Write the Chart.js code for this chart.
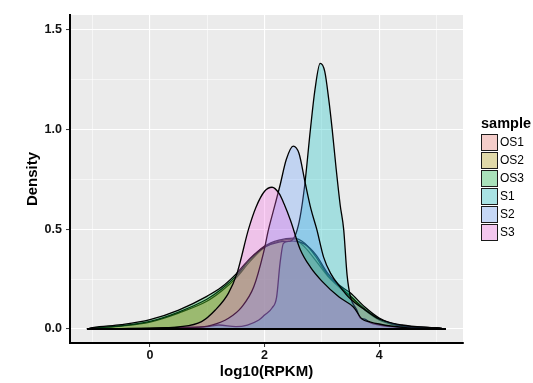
<!DOCTYPE html>
<html><head><meta charset="utf-8">
<script src="https://cdn.jsdelivr.net/npm/chart.js@4/dist/chart.umd.min.js"></script>
<style>
html,body{margin:0;padding:0;background:#fff;}
#wrap{position:relative;width:533px;height:383px;overflow:hidden;}
canvas{position:absolute;left:0;top:0;}
.lg{position:absolute;font-family:"Liberation Sans",Arial,sans-serif;color:#000;white-space:nowrap;}
</style></head><body>
<div id="wrap"><canvas id="c" width="533" height="383"></canvas><div id="legend"></div></div>
<script>
// ---- data ----
const samples = ['OS1','OS2','OS3','S1','S2','S3'];
const colors  = ['#F8766D','#B79F00','#00BA38','#00BFC4','#619CFF','#F564E3'];

const os1X = [-1.1,-1,-0.5,0,0.5,1.0,1.25,1.5,1.75,2.0,2.25,2.5,2.7,2.9,3.1,3.3,3.5,3.75,4.0,4.2,4.5,5.0,5.16];
const os1Y = [0,0.004,0.015,0.035,0.08,0.14,0.19,0.255,0.34,0.41,0.44,0.45,0.41,0.34,0.265,0.21,0.16,0.095,0.045,0.025,0.01,0.004,0];
const os2X = [-1.1,-1,-0.5,0,0.5,1.0,1.25,1.5,1.75,2.0,2.25,2.5,2.7,2.9,3.1,3.3,3.5,3.75,4.0,4.2,4.5,5.0,5.16];
const os2Y = [0,0.004,0.016,0.038,0.085,0.15,0.2,0.265,0.35,0.415,0.445,0.455,0.43,0.36,0.27,0.215,0.165,0.1,0.05,0.028,0.012,0.005,0];
const os3X = [-1.1,-1,-0.5,0,0.5,1.0,1.25,1.5,1.75,2.0,2.25,2.5,2.7,2.9,3.1,3.3,3.5,3.75,4.0,4.2,4.45,4.8,5.0,5.16];
const os3Y = [0,0.007,0.022,0.047,0.095,0.165,0.21,0.275,0.355,0.41,0.435,0.44,0.425,0.37,0.28,0.22,0.18,0.11,0.055,0.03,0.015,0.008,0.006,0];
const s1X = [-1.1,-0.5,0,0.5,1.0,1.2,1.5,1.7,1.9,2.0,2.13,2.21,2.27,2.33,2.45,2.55,2.62,2.7,2.8,2.88,2.97,3.05,3.12,3.18,3.25,3.32,3.38,3.44,3.5,3.61,3.67,3.75,3.85,4.0,4.2,4.6,5.0,5.16];
const s1Y = [0,0.002,0.004,0.008,0.012,0.02,0.012,0.02,0.045,0.07,0.105,0.16,0.33,0.43,0.44,0.48,0.56,0.72,1.0,1.2,1.33,1.29,1.15,1.0,0.8,0.62,0.5,0.27,0.16,0.095,0.055,0.05,0.03,0.02,0.012,0.006,0.004,0];
const s2X = [-1.1,0,0.7,1.08,1.37,1.6,1.81,1.98,2.07,2.18,2.27,2.38,2.5,2.6,2.71,2.81,2.91,3.03,3.15,3.32,3.5,3.73,4.0,4.4,5.0,5.16];
const s2Y = [0,0.002,0.006,0.02,0.054,0.11,0.21,0.38,0.5,0.62,0.72,0.85,0.916,0.88,0.73,0.6,0.5,0.36,0.28,0.21,0.15,0.1,0.05,0.02,0.005,0];
const s3X = [-1.1,-0.5,0,0.5,0.9,1.14,1.37,1.52,1.72,1.85,2.0,2.13,2.25,2.35,2.45,2.62,2.8,3.0,3.3,3.55,3.7,3.85,4.0,4.2,4.5,5.0,5.16];
const s3Y = [0,0.001,0.003,0.01,0.037,0.095,0.18,0.28,0.5,0.61,0.69,0.71,0.68,0.62,0.546,0.40,0.31,0.24,0.16,0.11,0.05,0.035,0.025,0.015,0.006,0.002,0];

const seriesX = [os1X, os2X, os3X, s1X, s2X, s3X];
const seriesY = [os1Y, os2Y, os3Y, s1Y, s2Y, s3Y];

const xTickValues = [0, 2, 4];
const xTickLabels = ['0', '2', '4'];
const xMinorValues = [-1, 1, 3, 5];
const yTickValues = [0, 0.5, 1.0, 1.5];
const yTickLabels = ['0.0', '0.5', '1.0', '1.5'];
const yMinorValues = [0.25, 0.75, 1.25];

// ---- helpers ----
function rgba(hex, a){
  const n = parseInt(hex.slice(1),16);
  return `rgba(${(n>>16)&255},${(n>>8)&255},${n&255},${a})`;
}
const FILL_ALPHA = 0.3;
const isMajorX = v => xTickValues.some(t => Math.abs(t-v) < 1e-9);
const isMajorY = v => yTickValues.some(t => Math.abs(t-v) < 1e-9);

const datasets = samples.map((s,i) => ({
  label: s,
  data: seriesX[i].map((x,j) => ({x, y: seriesY[i][j]})),
  borderColor: '#000',
  borderWidth: 1.3,
  backgroundColor: rgba(colors[i], FILL_ALPHA),
  fill: 'origin',
  pointRadius: 0,
  cubicInterpolationMode: 'monotone',
  order: samples.length - i + 1
}));
const allX = seriesX.flat();
const xLo = Math.min(...allX), xHi = Math.max(...allX);
datasets.push({
  label: 'baseline',
  data: [{x: xLo, y: 0}, {x: xHi, y: 0}],
  borderColor: '#000', borderWidth: 2, fill: false, pointRadius: 0, order: 0
});

const panelBg = {
  id: 'panelBg',
  beforeDraw(chart){
    const {ctx, chartArea: a} = chart;
    ctx.save(); ctx.fillStyle = '#EBEBEB';
    ctx.fillRect(a.left, a.top, a.right - a.left, a.bottom - a.top);
    ctx.restore();
  }
};

const FONT = '"Liberation Sans", Arial, sans-serif';

new Chart(document.getElementById('c'), {
  type: 'line',
  data: { datasets },
  plugins: [panelBg],
  options: {
    responsive: false,
    animation: false,
    devicePixelRatio: 1,
    layout: { padding: { top: 15, right: 70, bottom: 0, left: 0 } },
    plugins: { legend: { display: false }, tooltip: { enabled: false } },
    scales: {
      x: {
        type: 'linear', min: -1.396, max: 5.463,
        afterBuildTicks: sc => { sc.ticks = [...xMinorValues, ...xTickValues].sort((a,b)=>a-b).map(v => ({value: v})); },
        afterFit: sc => { sc.height = 40; },
        ticks: {
          autoSkip: false, maxRotation: 0, padding: 1,
          color: '#111', font: { family: FONT, size: 12.5, weight: 'bold' },
          callback: v => { const k = xTickValues.findIndex(t => Math.abs(t-v) < 1e-9); return k >= 0 ? xTickLabels[k] : ''; }
        },
        grid: {
          color: '#FFFFFF',
          lineWidth: c => isMajorX(c.tick.value) ? 1.1 : 0.55,
          drawTicks: true, tickLength: 4, tickWidth: 1,
          tickColor: c => isMajorX(c.tick.value) ? '#333333' : 'rgba(0,0,0,0)'
        },
        border: { display: true, color: '#000', width: 2 },
        title: { display: true, text: 'log10(RPKM)', color: '#000', font: { family: FONT, size: 15, weight: 'bold' }, padding: { top: 0, bottom: 2 } }
      },
      y: {
        type: 'linear', min: -0.0701, max: 1.5726,
        afterBuildTicks: sc => { sc.ticks = [...yMinorValues, ...yTickValues].sort((a,b)=>a-b).map(v => ({value: v})); },
        afterFit: sc => { sc.width = 70; },
        ticks: {
          autoSkip: false, padding: 4,
          color: '#111', font: { family: FONT, size: 12.5, weight: 'bold' },
          callback: v => { const k = yTickValues.findIndex(t => Math.abs(t-v) < 1e-9); return k >= 0 ? yTickLabels[k] : ''; }
        },
        grid: {
          color: '#FFFFFF',
          lineWidth: c => isMajorY(c.tick.value) ? 1.1 : 0.55,
          drawTicks: true, tickLength: 4, tickWidth: 1,
          tickColor: c => isMajorY(c.tick.value) ? '#333333' : 'rgba(0,0,0,0)'
        },
        border: { display: true, color: '#000', width: 2 },
        title: { display: true, text: 'Density', color: '#000', font: { family: FONT, size: 15, weight: 'bold' }, padding: { top: 24, bottom: 0 } }
      }
    }
  }
});

// ---- legend (HTML, real text) ----
const lg = document.getElementById('legend');
let html = '<div class="lg" style="left:481px;top:114px;font-weight:bold;font-size:14.5px;line-height:18px;">sample</div>';
samples.forEach((s, i) => {
  const y = 134 + 18 * i;
  html += `<div style="position:absolute;left:481px;top:${y}px;width:17px;height:17px;box-sizing:border-box;border:1px solid #1a1a1a;background:#F2F2F2;"><div style="width:100%;height:100%;background:${rgba(colors[i], FILL_ALPHA)}"></div></div>`;
  html += `<div class="lg" style="left:500px;top:${y}px;font-size:12px;line-height:17px;">${s}</div>`;
});
lg.innerHTML = html;
</script>
</body></html>
